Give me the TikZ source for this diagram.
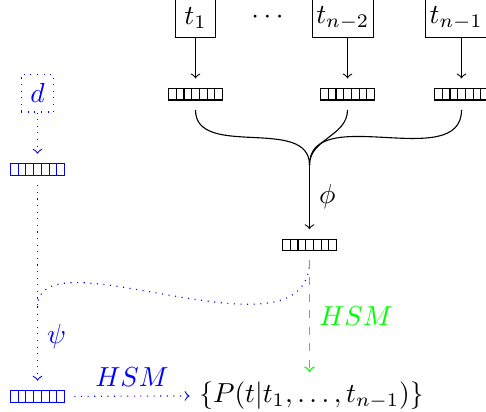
\documentclass[tikz,border=0pt]{standalone}
\usetikzlibrary{calc}
\begin{document}
\begin{tikzpicture}[x=0.3636pt,y=-0.3636pt,
  tok/.style={draw, minimum size=0.5cm, inner sep=1.5pt},
  vec/.style={draw=#1, minimum width=19.6pt, minimum height=4.25pt, inner sep=0pt, outer sep=3.6pt,
    path picture={\foreach \i in {1,...,6}{\draw[#1] ([xshift=\i*2.8pt]path picture bounding box.south west) -- ([xshift=\i*2.8pt]path picture bounding box.north west);}}},
  vec/.default=black,
  bdot/.style={blue, dotted},
  gdash/.style={draw=green, line width=0.5pt, dashed},
  arr/.style={->}]
\useasboundingbox (0,0) rectangle (486,412);
% top tokens
\node[tok] (t1) at (195.5,18.2) {$t_1$};
\node (dots) at (267.5,17.3) {$\cdots$};
\node[tok] (t2) at (342.8,18.2) {$t_{n-2}$};
\node[tok] (t3) at (456.2,18.2) {$t_{n-1}$};
% vectors
\node[vec] (v1) at (195.5,94.2) {};
\node[vec] (v2) at (347.5,94.2) {};
\node[vec] (v3) at (461.5,94.2) {};
\node[vec] (v4) at (309.5,245) {};
\node[vec=blue] (v5) at (37.5,169.5) {};
\node[vec=blue] (v6) at (37.5,396.5) {};
\node[draw=blue, dotted, text=blue] (d) at (37.5,93.3) {$d$};
\node (r) at (311.5,395.5) {$\{P(t|t_1,\ldots,t_{n-1})\}$};
\coordinate (j1) at (309.5,165);
\coordinate (j2) at (37.5,307);
% connectors
\draw[arr] (v1 |- t1.south) -- (v1.north);
\draw[arr] (v2 |- t2.south) -- (v2.north);
\draw[arr] (v3 |- t3.south) -- (v3.north);
\draw (v1.south) to[out=-90,in=90] (j1);
\draw (v2.south) to[out=-90,in=90] (j1);
\draw (v3.south) to[out=-90,in=90] (j1);
\draw[arr] (j1) -- (v4.north) node[midway,right] {$\phi$};
\draw[bdot,arr] (d.south) -- (v5.north);
\draw[bdot] (v5.south) -- (j2);
\draw[bdot,arr] (j2) -- (v6.north) node[pos=0.4,right] {$\psi$};
\draw[bdot] (v4.south) .. controls +(0,109) and +(0,-77) .. (j2);
\draw[gdash, arr] (v4.south) -- (v4.south |- r.north) node[midway,right,text=green] {$HSM$};
\draw[bdot,arr] (v6) -- (r) node[midway,above] {$HSM$};
\end{tikzpicture}
\end{document}
